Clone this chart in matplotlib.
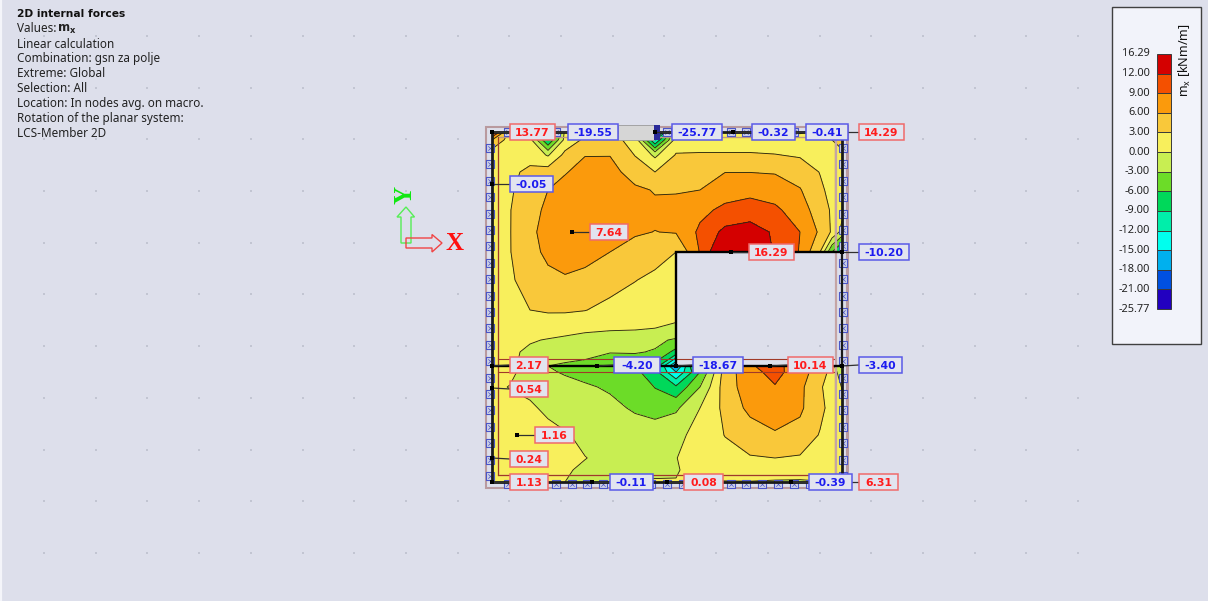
import numpy as np
import matplotlib
matplotlib.use("Agg")
import matplotlib.pyplot as plt
from matplotlib.patches import Rectangle, Polygon

# ---------- data (positions on the plate, in screen units of the reference view) ----------
grid_x = [492, 510, 530, 548, 565, 585, 610, 635, 655, 676, 700, 725, 750, 775, 800, 820, 832, 842]
grid_y = [132, 140, 155, 172, 190, 210, 232, 252, 280, 310, 330, 340, 352, 366, 372, 387, 408, 435, 458, 470, 482]
n = np.nan
mx_values = [
 [13.77, 2.0, 1.0, -19.55, 1.0, 3.5, 3.5, 1.0, -25.77, 1.0, 1.0, 1.0, -0.32, 1.0, -0.41, 1.0, 5.0, 14.29],
 [6.0, 1.5, 1.0, -9.0, 1.0, 3.6, 4.0, 2.0, -12.0, 1.5, 1.5, 1.5, 1.5, 1.5, 1.5, 1.5, 3.0, 6.0],
 [1.0, 1.5, 2.0, -0.3, 3.8, 5.9, 5.9, 2.9, -0.6, 3.2, 3.3, 3.3, 3.3, 3.1, 2.7, 2.0, 1.5, 1.0],
 [0.3, 2.4, 3.6, 4.5, 5.8, 7.0, 7.2, 4.5, 3.0, 4.5, 5.5, 5.95, 5.95, 5.8, 4.6, 2.9, 1.8, 0.5],
 [-0.05, 2.6, 4.6, 6.0, 7.0, 7.6, 7.6, 6.6, 5.8, 5.8, 6.0, 7.6, 8.0, 7.5, 6.2, 3.5, 2.2, 1.0],
 [0.3, 2.9, 5.0, 6.6, 7.2, 7.6, 7.6, 7.0, 6.6, 6.8, 8.2, 9.7, 10.5, 9.6, 7.4, 4.5, 2.6, 1.0],
 [0.4, 2.9, 5.4, 7.0, 7.6, 7.5, 6.8, 6.3, 5.95, 6.2, 9.6, 12.8, 13.3, 11.6, 9.0, 5.5, 2.6, -1.0],
 [0.4, 2.9, 5.0, 6.7, 7.2, 7.0, 6.0, 5.0, 4.2, 3.0, 9.2, 16.29, 14.0, 11.8, 8.8, 3.0, -6.0, -10.2],
 [0.5, 2.7, 3.9, 5.2, 5.7, 5.2, 4.4, 3.1, 2.3, 2.0, n, n, n, n, n, n, n, n],
 [0.6, 2.0, 3.0, 3.4, 3.4, 3.1, 2.0, 1.5, 1.0, 0.5, n, n, n, n, n, n, n, n],
 [0.5, 1.5, 1.0, 0.7, 0.6, 0.3, 0.1, 0.0, -0.1, -0.3, n, n, n, n, n, n, n, n],
 [0.6, 1.0, 0.15, -0.1, -0.4, -0.8, -1.3, -1.6, -2.2, -3.5, n, n, n, n, n, n, n, n],
 [1.0, 0.3, -0.3, -0.7, -1.1, -1.7, -2.9, -2.7, -3.3, -7.0, n, n, n, n, n, n, n, n],
 [2.17, 0.8, -1.5, -3.0, -3.6, -4.1, -4.3, -5.5, -7.0, -18.67, -2.0, 4.5, 8.7, 10.14, 7.0, 3.8, 1.0, -3.4],
 [1.5, 0.6, -1.2, -2.6, -3.3, -4.0, -4.5, -5.2, -8.0, -15.0, -6.0, 4.4, 8.0, 10.0, 7.3, 4.5, 2.0, -2.0],
 [0.54, -0.1, -0.5, -1.3, -2.0, -2.6, -3.4, -4.0, -6.1, -8.5, -3.0, 4.5, 7.6, 8.8, 6.7, 3.4, 1.5, -0.1],
 [0.3, 0.9, 0.3, -0.4, -1.0, -1.7, -2.2, -3.4, -4.3, -3.5, 0.0, 3.8, 6.8, 7.5, 6.5, 3.8, 1.9, 0.5],
 [0.5, 1.3, 1.0, 0.6, 0.2, -0.5, -1.1, -1.4, -1.2, -0.6, 0.8, 3.1, 4.4, 5.7, 5.0, 2.8, 1.6, 0.5],
 [0.24, 1.16, 1.1, 0.9, 0.5, 0.05, -0.5, -0.8, -0.5, -0.05, 0.9, 1.9, 2.8, 3.0, 2.7, 2.0, 1.3, 0.6],
 [0.8, 1.0, 0.9, 0.6, 0.2, -0.3, -0.3, -0.3, -0.2, -0.1, 0.5, 1.0, 1.4, 1.6, 1.6, 1.2, 1.0, 1.2],
 [1.13, 0.4, 0.2, 0.1, 0.0, -0.11, -0.2, 0.1, 0.08, 0.05, -0.1, -0.1, -0.1, -0.3, -0.39, -0.1, 1.0, 6.31],
]
levels = [-25.77, -21, -18, -15, -12, -9, -6, -3, 0, 3, 6, 9, 12, 16.29]
band_colors = ['#2200c0', '#0050e0', '#00b0ee', '#00ffee', '#00eeaa', '#00d85a', '#6cdc28',
               '#c8ee52', '#f8ef5c', '#f9c83a', '#fb9a0c', '#f45000', '#d40000']
legend_labels = ['16.29', '12.00', '9.00', '6.00', '3.00', '0.00', '-3.00', '-6.00', '-9.00',
                 '-12.00', '-15.00', '-18.00', '-21.00', '-25.77']
info_lines = ['Linear calculation', 'Combination: gsn za polje', 'Extreme: Global', 'Selection: All',
              'Location: In nodes avg. on macro.', 'Rotation of the planar system:', 'LCS-Member 2D']
# value, box left, box right, box centre y, marker x, marker y
result_labels = [
 (13.77, 510, 555, 132, 492, 132), (-19.55, 568, 618, 132, 548, 132), (-25.77, 672, 722, 132, 655, 132),
 (-0.32, 752, 795, 132, 733, 132), (-0.41, 806, 848, 132, 786, 132), (14.29, 859, 904, 132, 842, 132),
 (-0.05, 510, 553, 184, 492, 184), (7.64, 590, 628, 232, 572, 232), (16.29, 749, 794, 252, 731, 252),
 (-10.20, 859, 909, 252, 842, 252), (2.17, 510, 548, 365, 492, 366), (-4.20, 614, 660, 365, 597, 366),
 (-18.67, 693, 743, 365, 676, 366), (10.14, 788, 833, 365, 770, 366), (-3.40, 859, 902, 365, 842, 366),
 (0.54, 510, 548, 389, 492, 388), (1.16, 535, 574, 435, 517, 435), (0.24, 510, 548, 459, 492, 458),
 (1.13, 510, 548, 482, 492, 482), (-0.11, 610, 653, 482, 592, 482), (0.08, 684, 723, 482, 667, 482),
 (-0.39, 809, 852, 482, 791, 482), (6.31, 859, 898, 482, 842, 482),
]

# ---------- figure ----------
bg = '#dddfeb'
plt.rcParams['font.family'] = ['Noto Sans', 'DejaVu Sans']
plt.rcParams['mathtext.default'] = 'regular'
fig = plt.figure(figsize=(12.08, 6.01), dpi=100, facecolor=bg)
ax = fig.add_axes([0, 0, 1, 1])
ax.set_xlim(0, 1208)
ax.set_ylim(601, 0)
ax.axis('off')
ax.axvline(0.8, color='#f4f5fa', lw=1.6, zorder=0)

# background dots
dx = 561 + 51.7 * np.arange(-10, 13)
dy = 191 + 51.7 * np.arange(-3, 8)
DX, DY = np.meshgrid(dx, dy)
keep = DX < 1105
ax.scatter(DX[keep], DY[keep], s=0.7, marker='s', color='#c2c5d2', lw=0, zorder=1)

# contour bands
Z = np.ma.masked_invalid(np.array(mx_values))
ax.contourf(grid_x, grid_y, Z, levels=levels, colors=band_colors, corner_mask=False, zorder=2)
ax.contour(grid_x, grid_y, Z, levels=levels[1:-1], colors='#2a2a10', linewidths=0.65,
           linestyles='solid', corner_mask=False, zorder=3)

# member outlines
pink = '#b99a9f'
brown = '#a03a28'
ax.add_patch(Rectangle((485.5, 126.5), 361, 361, fill=False, ec=pink, lw=1.5, zorder=4))
ax.plot([835, 835, 498, 498, 835, 835], [252, 137, 137, 475, 475, 366], color='#c09a80', lw=1.0, zorder=4)
ax.plot([498, 498], [137, 475], color=brown, lw=0.8, zorder=4)
ax.plot([498, 835], [475, 475], color=brown, lw=0.8, zorder=4)
ax.plot([498, 835], [359, 359], color=brown, lw=0.8, zorder=4)
ax.plot([498, 835], [372, 372], color=brown, lw=0.8, zorder=4)
ax.plot([846.5, 846.5], [126, 488], color=pink, lw=2.2, zorder=4)
ax.plot([835.5, 835.5], [126, 488], color='#c5a5a5', lw=1.6, zorder=4)

# support symbols
sup = dict(marker='s', s=30, facecolor='#cfd2e6', edgecolor='#4a55c8', linewidths=0.8, zorder=5)
sup2 = dict(marker='x', s=10, color='#4a55c8', linewidths=0.5, zorder=6)
side_y = np.arange(148, 478, 16.4)
along_x = np.arange(508, 835, 15.9)
for xs, ys in [(np.full_like(side_y, 490), side_y), (np.full_like(side_y, 843), side_y),
               (along_x, np.full_like(along_x, 132)), (along_x, np.full_like(along_x, 484))]:
    ax.scatter(xs, ys, **sup)
    ax.scatter(xs, ys, **sup2)

# plate outline
ax.plot([842, 842, 492, 492, 842, 842], [252, 132, 132, 482, 482, 366], color='#1a1a1a', lw=2.0, zorder=7,
        solid_joinstyle='miter')
ax.plot([842, 842], [252, 366], color='#1a1a1a', lw=1.6, zorder=7)
ax.plot([842, 676, 676], [252, 252, 366], color='black', lw=1.7, zorder=7, solid_joinstyle='miter')
ax.plot([492, 842], [366, 366], color='black', lw=1.7, zorder=7)

# grey strip behind the top labels
ax.add_patch(Rectangle((618, 124.5), 36, 15.5, fc='#d6d6d6', ec='#9a9a9a', lw=0.6, zorder=8))
ax.add_patch(Rectangle((654, 124.5), 6, 15.5, fc='#2a2a9a', ec='none', zorder=8))

# result labels
for val, x0, x1, yc, mxp, myp in result_labels:
    col = '#ff1c1c' if val > 0 else '#1c1cf0'
    edge = '#f06a6a' if val > 0 else '#5a5ae8'
    lx = x0 if x0 > mxp else x1
    ax.plot([mxp, lx], [myp, yc if abs(yc - myp) < 2 else myp], color='#303030', lw=0.9, zorder=9)
    ax.scatter([mxp], [myp], marker='s', s=6, color='black', lw=0, zorder=10)
    ax.add_patch(Rectangle((x0, yc - 8), x1 - x0, 16, fc='#e2e4ef', ec=edge, lw=1.1, zorder=11))
    ax.text((x0 + x1) / 2, yc, f'{val:.2f}', color=col, ha='center', va='center_baseline',
            fontsize=7.8, fontweight='bold', family='DejaVu Sans', zorder=12)

# info text
ax.text(17, 14, '2D internal forces', fontsize=7.7, fontweight='bold', va='center', color='#111111',
        family='DejaVu Sans')
ax.text(17, 29, 'Values:', fontsize=8.45, va='center', color='#222222')
ax.text(57, 29, r'$\mathbf{m_x}$', fontsize=8.45, va='center', color='#222222')
for i, line in enumerate(info_lines):
    ax.text(17, 44 + i * 14.85, line, fontsize=8.45, va='center', color='#222222')

# triad
y_arrow = [(401, 243), (401, 217), (397, 217), (406, 207), (414.5, 217), (411, 217), (411, 243)]
x_arrow = [(406, 238), (432, 238), (432, 234.5), (442, 243), (432, 252), (432, 248), (406, 248)]
ax.add_patch(Polygon(y_arrow, closed=True, fill=False, ec='#55ee55', lw=1.0, zorder=5))
ax.add_patch(Polygon(x_arrow, closed=True, fill=False, ec='#f04545', lw=1.0, zorder=5))
ax.text(454, 243.5, 'X', color='#ff1010', family='Liberation Serif', fontweight='bold', fontsize=18,
        ha='center', va='center')
ax.text(405, 195, 'Y', color='#10e810', family='Liberation Serif', fontweight='bold', fontsize=18,
        ha='center', va='center', rotation=90)

# legend panel
ax.add_patch(Rectangle((1111.5, 6.5), 89, 337, fc='#f2f3fa', ec='#404040', lw=1.0, zorder=2))
bar_edges = np.linspace(54, 309, len(levels))
for i, c in enumerate(band_colors[::-1]):
    ax.add_patch(Rectangle((1157, bar_edges[i]), 14, bar_edges[i + 1] - bar_edges[i], fc=c, ec='#3a3a3a',
                           lw=0.7, zorder=3))
for lab, y in zip(legend_labels, bar_edges):
    ax.text(1150, y, lab, ha='right', va='center', fontsize=7.9, color='#222222', zorder=3)
ax.text(1185, 60, r'$m_x$ [kNm/m]', rotation=90, ha='center', va='center', fontsize=9, color='#111111', zorder=3)

fig.savefig('out.png', dpi=100, facecolor=bg)
